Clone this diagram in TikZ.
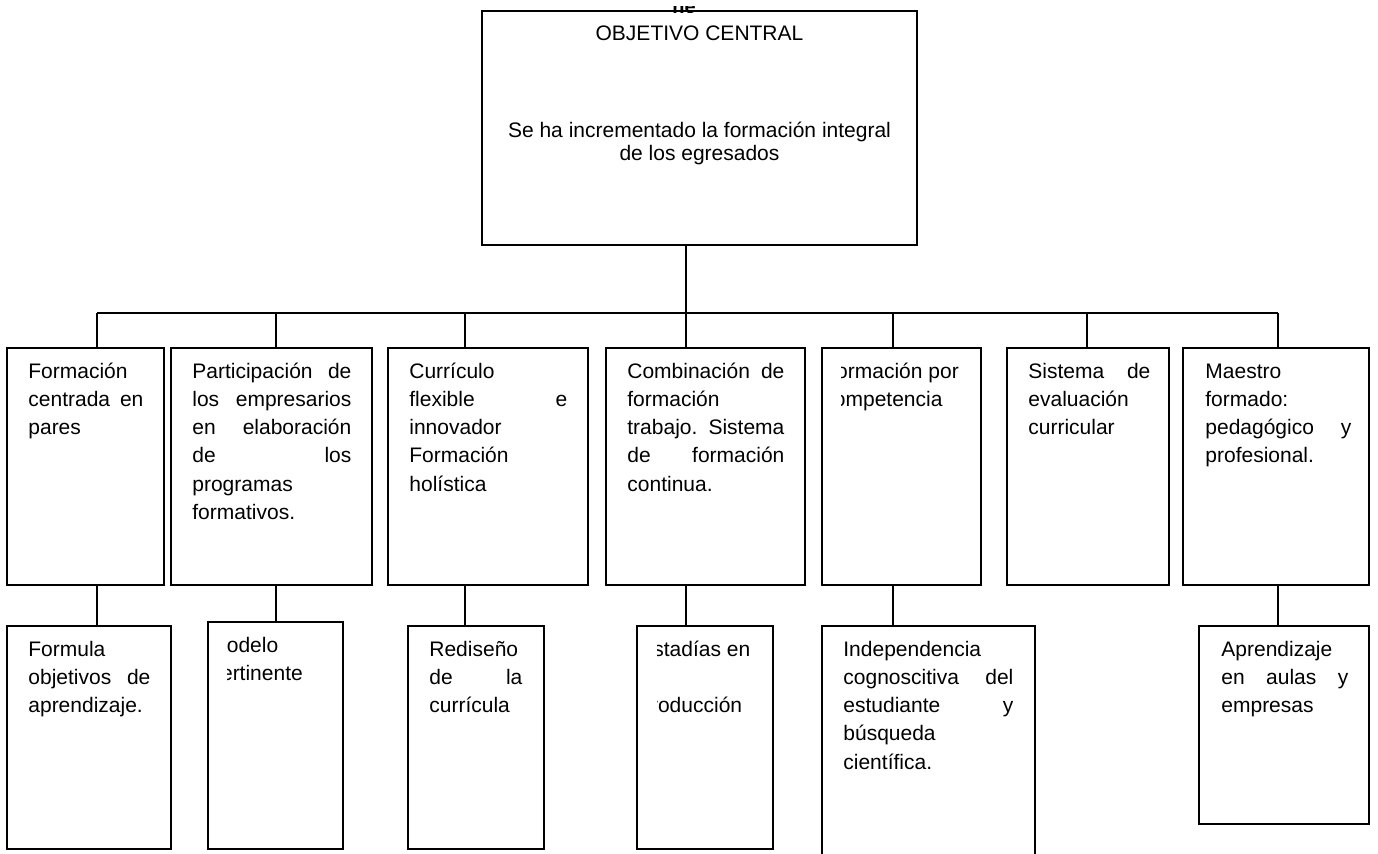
\documentclass[tikz,border=0pt]{standalone}
\usepackage{fontspec}
\setmainfont{Liberation Sans}
\usetikzlibrary{fit}

% a line stretched to the full cell width (justified)
\newcommand{\jl}[1]{\makebox[\linewidth][s]{#1}}
\newcommand{\cellfont}{\fontsize{10.5pt}{14.15pt}\selectfont}
% cell text: top-aligned paragraph of given width, baseline = first line
\newcommand{\celltext}[2]{\parbox[t]{#1}{\raggedright #2}}

\tikzset{
  frame/.style={draw, line width=1pt, inner sep=0pt},
  link/.style={line width=1pt},
  txt/.style={anchor=base west, inner sep=0pt, font=\cellfont},
}

\begin{document}
\begin{tikzpicture}[x=0.5pt,y=-0.5pt]
\useasboundingbox (0,0) rectangle (1378,853);

% cut-off heading above the central box
\begin{scope}
  \clip (660,6.5) rectangle (710,12);
  \node[anchor=base, inner sep=0pt, font=\fontsize{10pt}{12pt}\selectfont\bfseries] (hd) at (684,13) {ne};
\end{scope}

% central objective
\node[frame, fit={(482,11) (917,245)}] (top) {};
\node[anchor=base, inner sep=0pt, font=\cellfont] (title) at (699.5,40) {OBJETIVO CENTRAL};
\node[anchor=base, inner sep=0pt, font=\fontsize{10.5pt}{11.5pt}\selectfont] (goal) at (699.5,137)
  {\parbox[t]{212pt}{\centering Se ha incrementado la formación integral\\ de los egresados}};

% first level
\node[frame, fit={(7,348) (164,585)}]    (p1) {};
\node[frame, fit={(171,348) (372,585)}]  (p2) {};
\node[frame, fit={(388,348) (588,585)}]  (p3) {};
\node[frame, fit={(606,348) (805,585)}]  (p4) {};
\node[frame, fit={(822,348) (981,585)}]  (p5) {};
\node[frame, fit={(1007,348) (1169,585)}] (p6) {};
\node[frame, fit={(1183,348) (1369,585)}] (p7) {};

\node[txt] (tp1) at (28,378) {\celltext{57.5pt}{Formación\\ \jl{centrada en}\\ pares}};
\node[txt] (tp2) at (192,378) {\celltext{79.5pt}{\jl{Participación de}\\ \jl{los empresarios}\\ \jl{en elaboración}\\ \jl{de los}\\ programas\\ formativos.}};
\node[txt] (tp3) at (409,378) {\celltext{79pt}{Currículo\\ \jl{flexible e}\\ innovador\\ Formación\\ holística}};
\node[txt] (tp4) at (627,378) {\celltext{78.5pt}{\jl{Combinación de}\\ formación\\ \jl{trabajo. Sistema}\\ \jl{de formación}\\ continua.}};
\begin{scope}
  \clip (841,348) rectangle (981,585);
  \node[txt] (tp5) at (823,378) {\celltext{75pt}{Formación por\\ competencia}};
\end{scope}
\node[txt] (tp6) at (1028,378) {\celltext{61pt}{\jl{Sistema de}\\ evaluación\\ curricular}};
\node[txt] (tp7) at (1205,378) {\celltext{73pt}{Maestro\\ formado:\\ \jl{pedagógico y}\\ profesional.}};

% second level
\node[frame, fit={(7,626) (171,849)}]    (q1) {};
\node[frame, fit={(208,622) (343,849)}]  (q2) {};
\node[frame, fit={(408,626) (544,849)}]  (q3) {};
\node[frame, fit={(637,626) (773,849)}]  (q4) {};
\node[frame, fit={(822,626) (1035,872)}] (q5) {};
\node[frame, fit={(1199,626) (1369,824)}] (q7) {};

\node[txt] (tq1) at (28,656) {\celltext{61pt}{Formula\\ \jl{objetivos de}\\ aprendizaje.}};
\begin{scope}
  \clip (227,622) rectangle (343,849);
  \node[txt] (tq2) at (209,652) {\celltext{60pt}{Modelo\\ pertinente}};
\end{scope}
\node[txt] (tq3) at (429,656) {\celltext{46.5pt}{Rediseño\\ \jl{de la}\\ currícula}};
\begin{scope}
  \clip (657,626) rectangle (773,849);
  \node[txt] (tq4) at (639,656) {\celltext{60pt}{Estadías en\\ \mbox{}\\ producción}};
\end{scope}
\node[txt] (tq5) at (843,656) {\celltext{85pt}{Independencia\\ \jl{cognoscitiva del}\\ \jl{estudiante y}\\ búsqueda\\ científica.}};
\node[txt] (tq7) at (1221,656) {\celltext{63.5pt}{Aprendizaje\\ \jl{en aulas y}\\ empresas}};

% branch points on the bus line
\coordinate (trunk) at (686,313);
\coordinate (j1) at (97,313);
\coordinate (j2) at (276,313);
\coordinate (j3) at (465,313);
\coordinate (j4) at (686,313);
\coordinate (j5) at (893,313);
\coordinate (j6) at (1087,313);
\coordinate (j7) at (1278,313);

% connectors
\draw[link] (top.south -| trunk) -- (trunk);
\draw[link] (j1) -- (j7);
\foreach \i in {1,...,7} {
  \draw[link] (j\i) -- (j\i |- p\i.north);
}
\foreach \i in {1,2,3,4,5,7} {
  \draw[link] (j\i |- p\i.south) -- (j\i |- q\i.north);
}
\end{tikzpicture}
\end{document}
